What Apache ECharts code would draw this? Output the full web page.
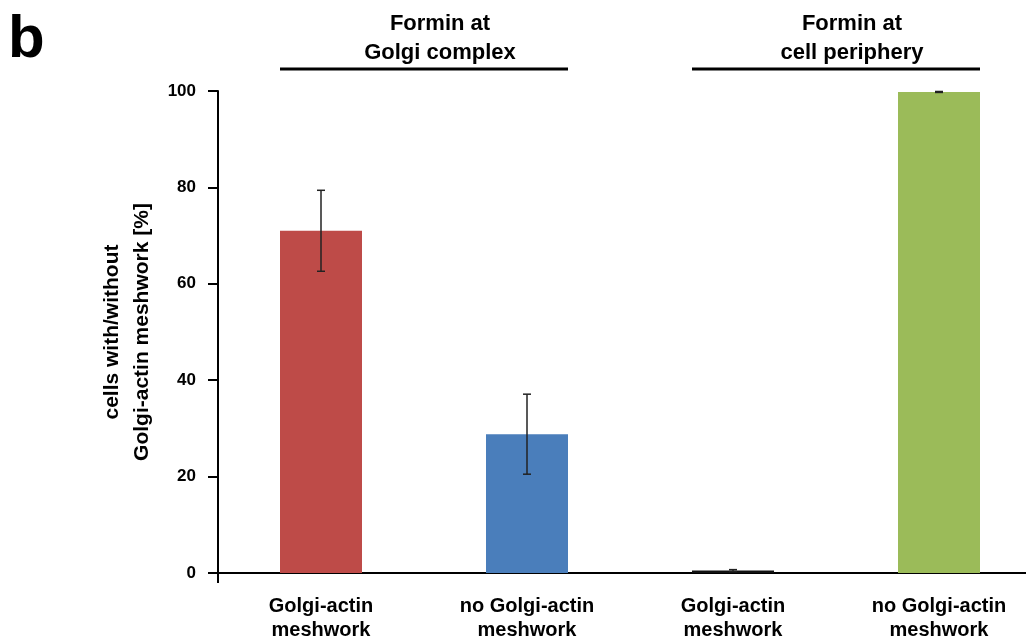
<!DOCTYPE html>
<html>
<head>
<meta charset="utf-8">
<script src="https://cdn.jsdelivr.net/npm/echarts@6/dist/echarts.min.js"></script>
<style>
    html, body { margin: 0; padding: 0; background: #fff; }
    #main { width: 1026px; height: 639px; }
</style>
</head>
<body>
<div id="main"></div>
<script>
// categories and values
var categories = ['Golgi-actin\nmeshwork', 'no Golgi-actin\nmeshwork', 'Golgi-actin\nmeshwork', 'no Golgi-actin\nmeshwork'];
var means = [71.0, 28.8, 0.5, 99.8];
var errors = [8.4, 8.3, 0.2, 0.1];
var barColors = ['#BE4B48', '#4A7EBB', '#111111', '#9BBB59'];
var groupTitles = ['Formin at\nGolgi complex', 'Formin at\ncell periphery'];
var yTicks = [0, 20, 40, 60, 80, 100];

var font = 'Liberation Sans, Arial, sans-serif';
var myChart = echarts.init(document.getElementById('main'));

function buildBars() {
    var result = [];
    for (var i = 0; i < means.length; i++) {
        result.push({value: means[i], itemStyle: {color: barColors[i]}});
    }
    return result;
}

function buildErrors() {
    var result = [];
    for (var i = 0; i < means.length; i++) {
        result.push([i, means[i] - errors[i], means[i] + errors[i]]);
    }
    return result;
}

myChart.setOption({
    animation: false,
    backgroundColor: '#fff',
    // plot runs past the right edge, the last band is cut off in the figure
    grid: {left: 218, width: 824, top: 91, bottom: 66, outerBoundsMode: 'none', containLabel: false},
    xAxis: {
        type: 'category',
        data: categories,
        axisLine: {lineStyle: {color: '#000', width: 2}},
        axisTick: {show: false},
        axisLabel: {
            color: '#000', fontFamily: font, fontWeight: 'bold', fontSize: 20,
            lineHeight: 24, margin: 21, interval: 0
        }
    },
    yAxis: {
        type: 'value',
        min: yTicks[0],
        max: yTicks[yTicks.length - 1],
        interval: 20,
        name: 'cells with/without\nGolgi-actin meshwork [%]',
        nameLocation: 'middle',
        nameRotate: 90,
        nameGap: 50,
        nameTextStyle: {color: '#000', fontFamily: font, fontWeight: 'bold', fontSize: 21, lineHeight: 30},
        axisLine: {show: true, lineStyle: {color: '#000', width: 2}},
        axisTick: {show: true, inside: false, length: 10, lineStyle: {color: '#000', width: 2}},
        axisLabel: {color: '#000', fontFamily: font, fontWeight: 'bold', fontSize: 17, margin: 22},
        splitLine: {show: false}
    },
    series: [
        {
            type: 'bar',
            data: buildBars(),
            barWidth: 82
        },
        {
            type: 'custom',
            data: buildErrors(),
            z: 5,
            renderItem: function(params, api) {
                var x = api.value(0);
                var lo = api.coord([x, api.value(1)]);
                var hi = api.coord([x, api.value(2)]);
                var cap = 4;
                var style = {stroke: '#222', lineWidth: 1.5};
                return {
                    type: 'group',
                    children: [
                        {type: 'line', shape: {x1: hi[0], y1: hi[1], x2: lo[0], y2: lo[1]}, style: style},
                        {type: 'line', shape: {x1: hi[0] - cap, y1: hi[1], x2: hi[0] + cap, y2: hi[1]}, style: style},
                        {type: 'line', shape: {x1: lo[0] - cap, y1: lo[1], x2: lo[0] + cap, y2: lo[1]}, style: style}
                    ]
                };
            }
        }
    ]
});

// group headers over pairs of bars, and panel letter
var half = 41;
var elements = [];
for (var g = 0; g < groupTitles.length; g++) {
    var left = myChart.convertToPixel({gridIndex: 0}, [g * 2, 0])[0] - half;
    var right = myChart.convertToPixel({gridIndex: 0}, [g * 2 + 1, 0])[0] + half;
    elements.push({
        type: 'line',
        shape: {x1: left, y1: 69, x2: right, y2: 69},
        style: {stroke: '#000', lineWidth: 3}
    });
    elements.push({
        type: 'text',
        x: (left + right) / 2 + 16,
        y: 9,
        style: {
            text: groupTitles[g], fill: '#000', font: 'bold 22px ' + font,
            textAlign: 'center', textVerticalAlign: 'top', lineHeight: 29
        }
    });
}
// y axis line continues a bit below zero
var p0 = myChart.convertToPixel({gridIndex: 0}, [0, 0]);
var p1 = myChart.convertToPixel({gridIndex: 0}, [1, 0]);
var axisX = p0[0] - (p1[0] - p0[0]) / 2;
elements.push({
    type: 'line',
    shape: {x1: axisX, y1: p0[1], x2: axisX, y2: p0[1] + 10},
    style: {stroke: '#000', lineWidth: 2}
});
elements.push({
    type: 'text', x: 8, y: 10,
    style: {text: 'b', fill: '#000', font: 'bold 60px ' + font}
});
myChart.setOption({graphic: {elements: elements}});
</script>
</body>
</html>
